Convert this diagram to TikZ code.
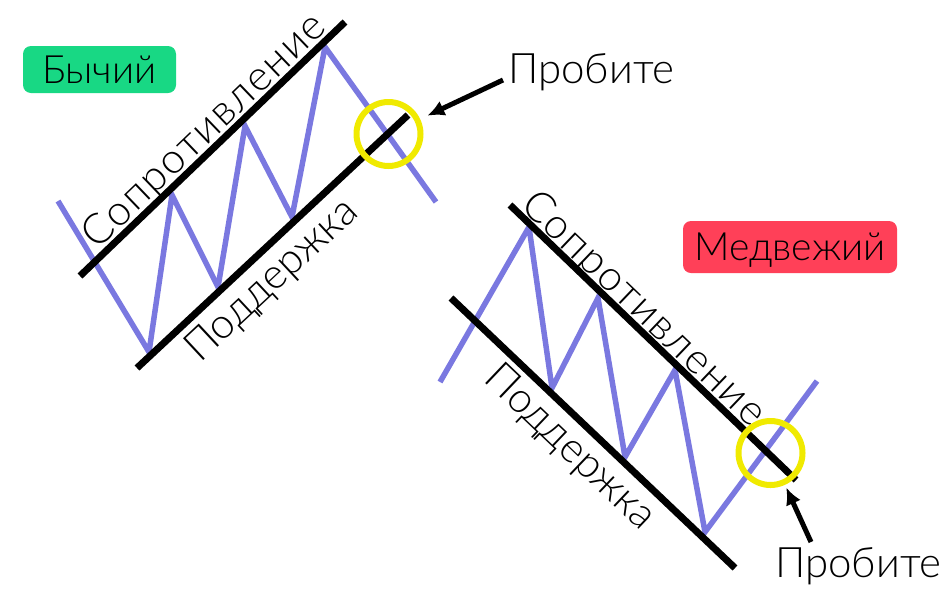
\documentclass[tikz,border=0pt]{standalone}
\usepackage{fontspec}
\setmainfont{Lato Light}
\usepackage{tikz}
\usetikzlibrary{arrows.meta,positioning}
\definecolor{zigblue}{RGB}{122,120,224}
\definecolor{ringyellow}{RGB}{240,234,0}
\definecolor{bullgreen}{RGB}{24,216,132}
\definecolor{bearred}{RGB}{255,64,88}

\begin{document}
\begin{tikzpicture}
		[x=1pt,y=-1pt,
		trend/.style={line width=7pt},
		price/.style={draw=zigblue,line width=5.5pt,line join=miter},
		line node/.style={anchor=base,inner sep=0pt,font=\fontsize{42}{42}\selectfont},
		wide node/.style={line node,font=\fontsize{42}{42}\selectfont\addfontfeature{LetterSpace=4}},
		tag node/.style={rounded corners=8pt,inner sep=0pt,text depth=0pt,font=\fontsize{39}{39}\selectfont},
		ring node/.style={circle,draw=ringyellow,line width=6pt,minimum size=64pt,inner sep=0pt},
		pointer/.style={line width=5pt,-{Latex[length=17pt,width=16pt]}}]
		\useasboundingbox (0,0) rectangle (952,595);
		
		% bullish channel
		\coordinate (r1a) at (80,276);
		\coordinate (r1b) at (345,22);
		\coordinate (s1a) at (137,368);
		\coordinate (s1b) at (408,115);
		\draw[price] (58,201) -- (149,352) -- (172,195) -- (218,287) -- (245,126) -- (292,217) -- (325,47) -- (436,202);
		\draw[trend] (r1a) -- (r1b);
		\draw[trend] (s1a) -- (s1b);
		\node[wide node,rotate=43.8] (res1) at (213,140) {Сопротивление};
		\node[line node,rotate=43.0] (sup1) at (280,289) {Поддержка};
		\node[ring node] (brk1) at (388.5,134) {};
		
		% bearish channel
		\coordinate (r2a) at (510,205);
		\coordinate (r2b) at (796,480);
		\coordinate (s2a) at (451,298);
		\coordinate (s2b) at (735,568);
		\draw[price] (440,382) -- (529,227) -- (552,388) -- (598,298) -- (625,457) -- (675,370) -- (705,532) -- (817,381);
		\draw[trend] (r2a) -- (r2b);
		\draw[trend] (s2a) -- (s2b);
		\node[wide node,rotate=-43.7] (res2) at (635,318) {Сопротивление};
		\node[line node,rotate=-43.6] (sup2) at (562,456) {Поддержка};
		\node[ring node] (brk2) at (770.5,453) {};
		
		% tags
		\node[tag node,fill=bullgreen,minimum width=153pt,minimum height=47pt] (bull) at (99.5,69.5) {Бычий};
		\node[tag node,fill=bearred,minimum width=214pt,minimum height=52pt] (bear) at (790,247) {Медвежий};
		
		% breakouts
		\node[line node,anchor=base west] (hit1) at (508,83) {Пробите};
		\node[line node,anchor=base west] (hit2) at (775,577) {Пробите};
		\coordinate (p1) at (503,80);
		\coordinate (p2) at (811,542);
		\draw[pointer,shorten >=8pt] (p1) to (brk1);
		\draw[pointer,shorten >=3pt] (p2) to (brk2);
		\end{tikzpicture}
\end{document}
